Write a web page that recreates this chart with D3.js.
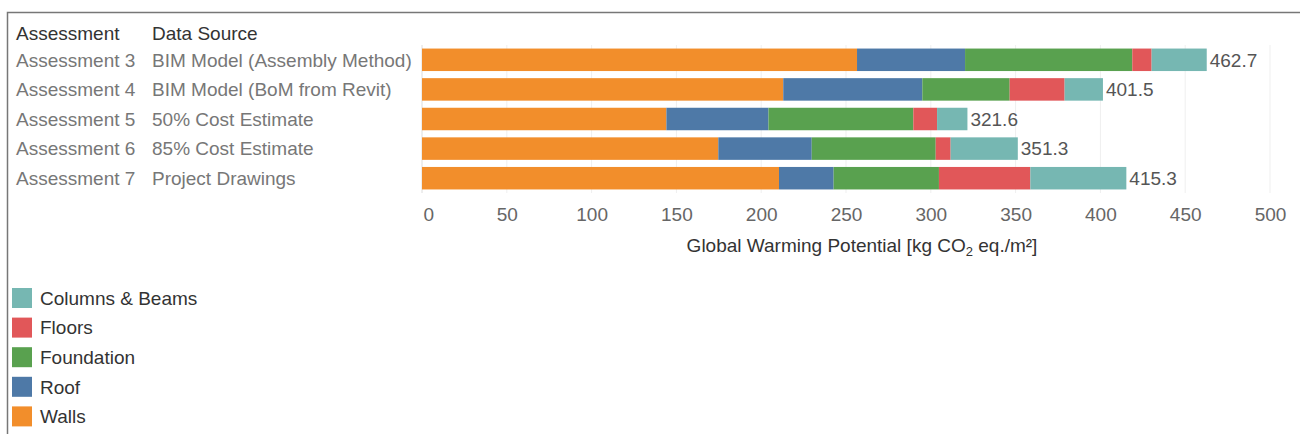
<!DOCTYPE html>
<html><head><meta charset="utf-8">
<script src="https://cdn.jsdelivr.net/npm/d3@7"></script>
<style>
html,body{margin:0;padding:0;background:#fff;}
svg{display:block;font-family:"Liberation Sans",Arial,Helvetica,sans-serif;}
</style></head>
<body>
<svg id="chart" width="1300" height="434"></svg>
<script>
const assessments = ["Assessment 3","Assessment 4","Assessment 5","Assessment 6","Assessment 7"];
const dataSources = ["BIM Model (Assembly Method)","BIM Model (BoM from Revit)","50% Cost Estimate","85% Cost Estimate","Project Drawings"];
const components = ["Walls","Roof","Foundation","Floors","Columns & Beams"];
const walls      = [256.5, 213.0, 144.1, 174.7, 210.5];
const roof       = [63.7, 82.0, 60.2, 55.1, 32.2];
const foundation = [98.6, 51.5, 85.4, 73.1, 62.1];
const floors     = [11.4, 32.4, 14.0, 8.8, 53.9];
const columns    = [32.5, 22.6, 17.9, 39.6, 56.6];
const totals     = [462.7, 401.5, 321.6, 351.3, 415.3];
const xTicks     = [0,50,100,150,200,250,300,350,400,450,500];
const legendOrder = ["Columns & Beams","Floors","Foundation","Roof","Walls"];
const colors = ["#F28E2B","#4E79A7","#59A14F","#E15759","#76B7B2"];

const FS = 19;
const svg = d3.select("#chart");
const rows = assessments.map((a,i)=>({assessment:a, source:dataSources[i],
  "Walls":walls[i],"Roof":roof[i],"Foundation":foundation[i],"Floors":floors[i],"Columns & Beams":columns[i], total:totals[i]}));

const x = d3.scaleLinear().domain([0,500]).range([422,1270]);
const y = d3.scaleBand().domain(assessments).range([45,193]).paddingInner(0.24).paddingOuter(0.12);
const color = d3.scaleOrdinal().domain(components).range(colors);

// frame
svg.append("path").attr("d","M7.5,434 L7.5,12.5 L1300,12.5").attr("fill","none").attr("stroke","#777").attr("stroke-width",1.5);

// gridlines
svg.append("g").selectAll("line").data(xTicks).join("line")
  .attr("x1",d=>x(d)).attr("x2",d=>x(d)).attr("y1",45).attr("y2",193)
  .attr("stroke",d=>d===0?"#dcdcdc":"#efefef").attr("stroke-width",1);

// stacked bars
const stack = d3.stack().keys(components)(rows);
svg.append("g").selectAll("g").data(stack).join("g")
  .attr("fill",d=>color(d.key))
  .selectAll("rect").data(d=>d).join("rect")
  .attr("x",d=>x(d[0])).attr("width",d=>x(d[1])-x(d[0]))
  .attr("y",d=>y(d.data.assessment)).attr("height",y.bandwidth());

// value labels
svg.append("g").selectAll("text").data(rows).join("text")
  .attr("x",d=>x(d.total)+3).attr("y",d=>y(d.assessment)+y.bandwidth()/2)
  .attr("dy","0.36em").attr("font-size",FS).attr("fill","#555")
  .text(d=>d3.format(".1f")(d.total));

// row labels
const lab = svg.append("g");
lab.selectAll("text.a").data(rows).join("text").attr("class","a")
  .attr("x",16).attr("y",d=>y(d.assessment)+y.bandwidth()/2).attr("dy","0.36em")
  .attr("font-size",FS).attr("fill","#777").text(d=>d.assessment);
lab.selectAll("text.s").data(rows).join("text").attr("class","s")
  .attr("x",152).attr("y",d=>y(d.assessment)+y.bandwidth()/2).attr("dy","0.36em")
  .attr("font-size",FS).attr("fill","#777").text(d=>d.source);
svg.append("text").attr("x",16).attr("y",40).attr("font-size",FS).attr("fill","#333").text("Assessment");
svg.append("text").attr("x",152).attr("y",40).attr("font-size",FS).attr("fill","#333").text("Data Source");

// x axis
const axis = d3.axisBottom(x).tickValues(xTicks).tickSize(0).tickPadding(0).tickFormat(d3.format("d"));
const ax = svg.append("g").attr("transform","translate(0,214)").call(axis);
ax.select(".domain").remove();
ax.selectAll("text").attr("font-size",FS).attr("fill","#666").attr("font-family","Liberation Sans, Arial, sans-serif").attr("dy","0.36em").attr("y",0);
ax.selectAll(".tick").filter(d=>d===0).select("text").attr("text-anchor","start").attr("x",1);

const title = svg.append("text").attr("x",862).attr("y",252).attr("text-anchor","middle").attr("font-size",FS).attr("fill","#333");
title.append("tspan").text("Global Warming Potential [kg CO");
title.append("tspan").attr("font-size",13).attr("dy",4).text("2");
title.append("tspan").attr("dy",-4).text(" eq./m²]");

// legend
const lg = svg.append("g").selectAll("g").data(legendOrder).join("g")
  .attr("transform",(d,i)=>`translate(12,${288+i*29.6})`);
lg.append("rect").attr("width",20).attr("height",20).attr("fill",d=>color(d));
lg.append("text").attr("x",28).attr("y",10).attr("dy","0.36em").attr("font-size",FS).attr("fill","#333").text(d=>d);
</script>
</body></html>
